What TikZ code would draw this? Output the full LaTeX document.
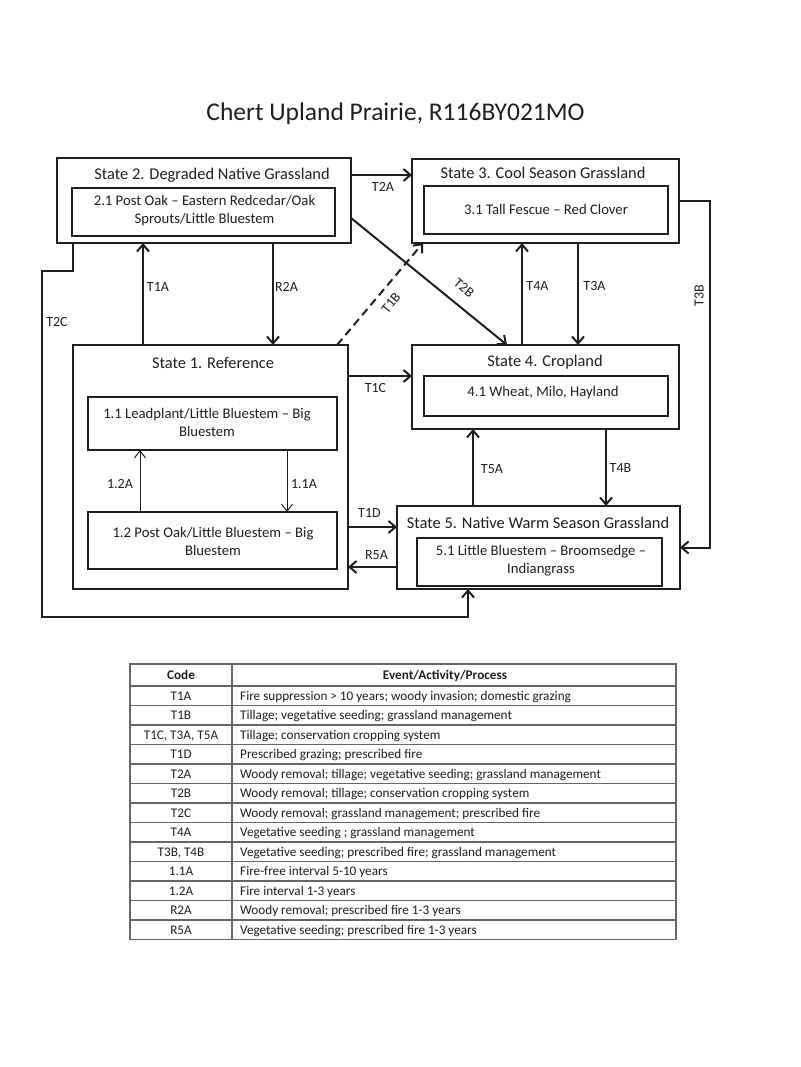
\documentclass[tikz,border=0pt]{standalone}
\usepackage{fontspec}
\setmainfont{Carlito}
\usetikzlibrary{arrows.meta,calc}
\definecolor{ink}{gray}{0.12}
\definecolor{rule}{gray}{0.40}
\begin{document}
\begin{tikzpicture}[x=1pt,y=-1pt,
  statebox/.style={draw=ink, line width=2.2pt, rectangle, outer sep=0pt, inner sep=0pt},
  subbox/.style={draw=ink, line width=1.1pt, rectangle, outer sep=0pt, inner sep=0pt},
  subtext/.style={text=ink, inner sep=0pt, align=center, font=\fontsize{14.7}{18}\selectfont},
  sttitle/.style={text=ink, inner sep=0pt, font=\fontsize{16.4}{19}\selectfont},
  arr/.style={draw=ink, line width=2pt, -{Straight Barb[length=7pt,width=12pt,line width=2pt]}},
  thinarr/.style={draw=ink, line width=1pt, -{Straight Barb[length=7pt,width=11pt,line width=1pt]}},
  lab/.style={text=ink, inner sep=0pt, font=\fontsize{14}{16}\selectfont},
  cell/.style={text=ink, inner sep=0pt, text height=10.5pt, text depth=2pt, font=\fontsize{13.2}{15}\selectfont},
  ]
\useasboundingbox (0,0) rectangle (800,1067);
\fill[white] (0,0) rectangle (800,1067);

% title
\node[text=ink, inner sep=0pt, font=\fontsize{25.5}{30}\selectfont] (title) at (395.5,114) {Chert Upland Prairie, R116BY021MO};

% state boxes
\node[statebox, minimum width=294pt, minimum height=85pt] (s2) at (204,200.5) {};
\node[subbox, minimum width=263pt, minimum height=48pt] (b21) at (203.5,212) {};
\node[sttitle] (h2) at (212,175) {State 2. Degraded Native Grassland};
\node[subtext] (t21) at (204.5,210.5) {2.1 Post Oak – Eastern Redcedar/Oak\\Sprouts/Little Bluestem};

\node[statebox, minimum width=267pt, minimum height=84pt] (s3) at (545.5,201) {};
\node[subbox, minimum width=244pt, minimum height=48pt] (b31) at (546,210) {};
\node[sttitle] (h3) at (543,173) {State 3. Cool Season Grassland};
\node[subtext] (t31) at (546,209) {3.1 Tall Fescue – Red Clover};

\node[statebox, minimum width=275pt, minimum height=244pt] (s1) at (210.5,467) {};
\node[subbox, minimum width=249pt, minimum height=53pt] (b11) at (212.5,423.5) {};
\node[subbox, minimum width=249pt, minimum height=57pt] (b12) at (212.5,540.5) {};
\node[sttitle] (h1) at (213,363) {State 1. Reference};
\node[subtext] (t11) at (207,422) {1.1 Leadplant/Little Bluestem – Big\\Bluestem};
\node[subtext] (t12) at (213,541) {1.2 Post Oak/Little Bluestem – Big\\Bluestem};

\node[statebox, minimum width=267pt, minimum height=84pt] (s4) at (545.5,387) {};
\node[subbox, minimum width=244pt, minimum height=40pt] (b41) at (546,396) {};
\node[sttitle] (h4) at (545,362) {State 4. Cropland};
\node[subtext] (t41) at (543,393) {4.1 Wheat, Milo, Hayland};

\node[statebox, minimum width=283pt, minimum height=83pt] (s5) at (538.5,547.5) {};
\node[subbox, minimum width=245pt, minimum height=48pt] (b51) at (539.5,562) {};
\node[sttitle] (h5) at (538,523) {State 5. Native Warm Season Grassland};
\node[subtext] (t51) at (541,561) {5.1 Little Bluestem – Broomsedge –\\Indiangrass};

% helper coordinates
\coordinate (yT2A) at (0,175);
\coordinate (xT3B) at (710,0);
\coordinate (xT1A) at (143,0);
\coordinate (xR2A) at (273,0);
\coordinate (xT2C) at (73,0);
\coordinate (c2a) at (73,271);
\coordinate (c2b) at (42,271);
\coordinate (c2c) at (42,617);
\coordinate (c2d) at (468,617);
\coordinate (xT1Bs) at (337,0);
\coordinate (xT1Be) at (423,0);
\coordinate (yT2B) at (0,218);
\coordinate (xT2Be) at (507,0);
\coordinate (xT4A) at (522,0);
\coordinate (xT3A) at (578,0);
\coordinate (yT1C) at (0,376);
\coordinate (xT5A) at (473,0);
\coordinate (xT4B) at (606,0);
\coordinate (yT1D) at (0,527);
\coordinate (yR5A) at (0,567);
\coordinate (x12A) at (140,0);
\coordinate (x11A) at (287,0);

% connectors
\draw[arr] (s2.east |- yT2A) -- (s3.west |- yT2A);
\draw[arr] (s3.east) -- (s3.east -| xT3B) -- (s5.east -| xT3B) -- (s5.east);
\draw[arr] (s1.north -| xT1A) -- (s2.south -| xT1A);
\draw[arr] (s2.south -| xR2A) -- (s1.north -| xR2A);
\draw[arr] (s2.south -| xT2C) -- (c2a) -- (c2b) -- (c2c) -- (c2d) -- (s5.south -| c2d);
\draw[arr, dashed, dash pattern=on 8pt off 5pt] (s1.north -| xT1Bs) -- (s3.south -| xT1Be);
\draw[arr] (s2.east |- yT2B) -- (s4.north -| xT2Be);
\draw[arr] (s4.north -| xT4A) -- (s3.south -| xT4A);
\draw[arr] (s3.south -| xT3A) -- (s4.north -| xT3A);
\draw[arr] (s1.east |- yT1C) -- (s4.west |- yT1C);
\draw[arr] (s5.north -| xT5A) -- (s4.south -| xT5A);
\draw[arr] (s4.south -| xT4B) -- (s5.north -| xT4B);
\draw[arr] (s1.east |- yT1D) -- (s5.west |- yT1D);
\draw[arr] (s5.west |- yR5A) -- (s1.east |- yR5A);
\draw[thinarr] (b12.north -| x12A) -- (b11.south -| x12A);
\draw[thinarr] (b11.south -| x11A) -- (b12.north -| x11A);

% connector labels
\node[lab] (lT2A) at (383,187) {T2A};
\node[lab, rotate=90] (lT3B) at (699,295.5) {T3B};
\node[lab] (lT1A) at (158,287) {T1A};
\node[lab] (lR2A) at (286.5,287) {R2A};
\node[lab] (lT2C) at (57,322) {T2C};
\node[lab, rotate=50] (lT1B) at (391,303) {T1B};
\node[lab, rotate=-40] (lT2B) at (464,288) {T2B};
\node[lab] (lT4A) at (537.5,286) {T4A};
\node[lab] (lT3A) at (594.5,286) {T3A};
\node[lab] (lT1C) at (375.5,388) {T1C};
\node[lab] (lT5A) at (492,469) {T5A};
\node[lab] (lT4B) at (620.5,468) {T4B};
\node[lab] (lT1D) at (369.5,513) {T1D};
\node[lab] (lR5A) at (376.5,555) {R5A};
\node[lab] (l12A) at (120,484) {1.2A};
\node[lab] (l11A) at (304,484) {1.1A};

% table
\draw[rule, line width=1.3pt] (130,664) rectangle (676,939.5);
\draw[rule, line width=1.3pt] (232,664) -- (232,939.5);
\draw[rule, line width=1.3pt] (130,686) -- (676,686);
\foreach \k in {1,...,12} {
  \draw[rule, line width=1.3pt] (130,{686+19.5*\k}) -- (676,{686+19.5*\k});
}
\node[cell, font=\bfseries\fontsize{13.2}{15}\selectfont] (hc) at (181,675) {Code};
\node[cell, font=\bfseries\fontsize{13.2}{15}\selectfont] (he) at (445,675) {Event/Activity/Process};
\foreach \c/\t [count=\i] in {
  T1A/{Fire suppression > 10 years; woody invasion; domestic grazing},
  T1B/{Tillage; vegetative  seeding; grassland management},
  {T1C, T3A, T5A}/{Tillage; conservation cropping system},
  T1D/{Prescribed grazing; prescribed fire},
  T2A/{Woody removal; tillage; vegetative  seeding; grassland management},
  T2B/{Woody removal; tillage; conservation cropping system},
  T2C/{Woody removal; grassland management; prescribed fire},
  T4A/{Vegetative  seeding ; grassland management},
  {T3B, T4B}/{Vegetative  seeding; prescribed fire; grassland management},
  1.1A/{Fire-free interval 5-10 years},
  1.2A/{Fire interval 1-3 years},
  R2A/{Woody removal; prescribed fire 1-3 years},
  R5A/{Vegetative  seeding; prescribed fire 1-3 years}} {
  \node[cell] (c\i) at (181,{686+19.5*(\i-0.5)}) {\c};
  \node[cell, anchor=west] (e\i) at (240,{686+19.5*(\i-0.5)}) {\t};
}
\end{tikzpicture}
\end{document}
